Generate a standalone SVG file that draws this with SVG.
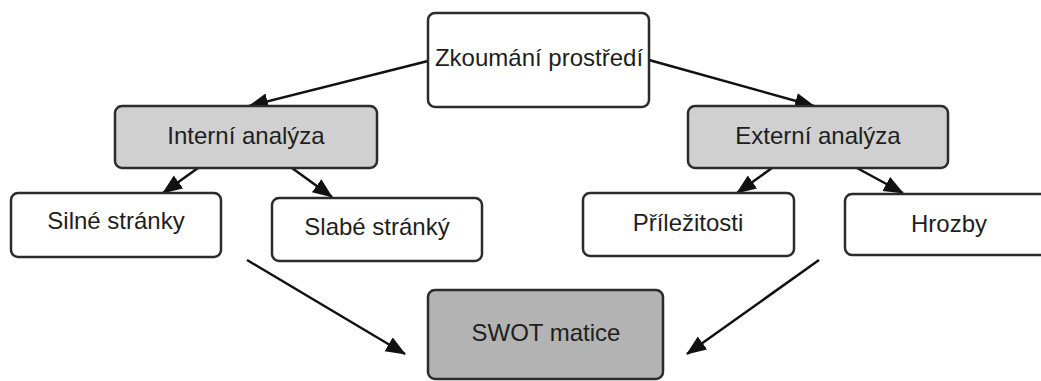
<svg xmlns="http://www.w3.org/2000/svg" width="1041" height="381" viewBox="0 0 1041 381">
<style>
.box{stroke:#2b2b2b;stroke-width:2.5}
.w{fill:#ffffff}
.g{fill:#d0d0d0}
.d{fill:#b3b3b3}
text{font-family:"Liberation Sans",Arial,sans-serif;font-size:24px;fill:#1e1e1e;text-anchor:middle}
.c{stroke:#111;stroke-width:2.5;fill:none;marker-end:url(#ah)}
</style>
<defs>
<marker id="ah" markerUnits="userSpaceOnUse" markerWidth="22" markerHeight="18" refX="19" refY="8" orient="auto">
<path d="M0,0 L20,8 L0,16 z" fill="#111"/>
</marker>
</defs>
<rect width="1041" height="381" fill="#ffffff"/>
<g id="connectors">
<line class="c" x1="428" y1="61" x2="249" y2="106"/>
<line class="c" x1="649" y1="60" x2="814" y2="106"/>
<line class="c" x1="198" y1="168" x2="163" y2="193"/>
<line class="c" x1="292" y1="168" x2="332" y2="197"/>
<line class="c" x1="772" y1="168" x2="737" y2="193"/>
<line class="c" x1="857" y1="168" x2="903" y2="193"/>
<line class="c" x1="247" y1="260" x2="405" y2="354"/>
<line class="c" x1="819" y1="260" x2="687" y2="354"/>
</g>
<g id="zkoumani"><rect class="box w" x="428" y="13" width="221" height="94" rx="7"/><text x="539" y="66">Zkoumání prostředí</text></g>
<g id="interni"><rect class="box g" x="115" y="106" width="262" height="62" rx="7"/><text x="246" y="144">Interní analýza</text></g>
<g id="externi"><rect class="box g" x="688" y="106" width="260" height="62" rx="7"/><text x="818" y="144">Externí analýza</text></g>
<g id="silne"><rect class="box w" x="11" y="193" width="210" height="64" rx="7"/><text x="116" y="229">Silné stránky</text></g>
<g id="slabe"><rect class="box w" x="272" y="198" width="210" height="63" rx="7"/><text x="377" y="235">Slabé stránký</text></g>
<g id="prilezitosti"><rect class="box w" x="583" y="193" width="211" height="63" rx="7"/><text x="688" y="231">Příležitosti</text></g>
<g id="hrozby"><rect class="box w" x="845" y="194" width="208" height="61" rx="7"/><text x="949" y="232">Hrozby</text></g>
<g id="swot"><rect class="box d" x="428" y="290" width="235" height="89" rx="7"/><text x="546" y="341">SWOT matice</text></g>
</svg>
